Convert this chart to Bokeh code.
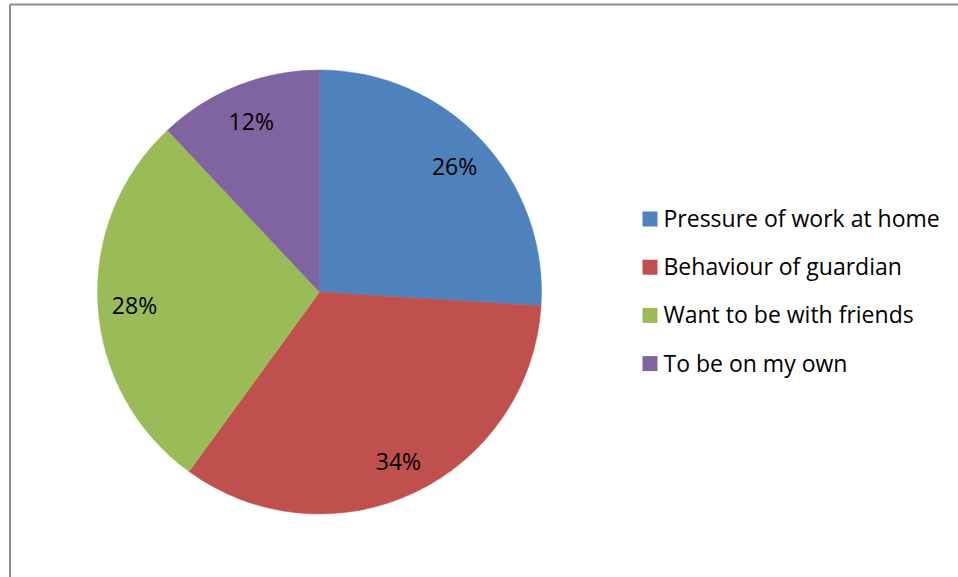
import math
from bokeh.plotting import figure
from bokeh.models import Range1d, ColumnDataSource
from bokeh.core.properties import value
from bokeh.embed import file_html
from bokeh.resources import INLINE

categories = ["Pressure of work at home", "Behaviour of guardian",
              "Want to be with friends", "To be on my own"]
percent = [26, 34, 28, 12]
colors = ["#4f81bd", "#c0504d", "#9bbb59", "#8064a2"]

W, H = 958, 577
p = figure(width=W, height=H, output_backend="svg", toolbar_location=None,
           x_range=Range1d(0, W), y_range=Range1d(0, H), min_border=0)
p.axis.visible = False
p.grid.visible = False
p.outline_line_color = None
p.background_fill_color = "white"
p.border_fill_color = "white"

def Y(py):
    return H - py

# chart area border (extends past the window on right and bottom)
p.segment(x0=[9.5, 9.5], y0=[Y(4), Y(4)], x1=[9.5, 1200], y1=[Y(900), Y(4)],
          line_color="#8c8c8c", line_width=2)

cx, cy, r = 319, Y(291.5), 222
label_r = 0.835
total = sum(percent)
starts, ends, lx, ly, labels = [], [], [], [], []
acc = 0.0
for v in percent:
    a0 = acc / total * 2 * math.pi
    acc += v
    a1 = acc / total * 2 * math.pi
    starts.append(math.pi / 2 - a0)
    ends.append(math.pi / 2 - a1)
    mid = (a0 + a1) / 2
    lx.append(cx + label_r * r * math.sin(mid))
    ly.append(cy + label_r * r * math.cos(mid) - 1)
    labels.append(f"{v}%")

src = ColumnDataSource(dict(start=starts, end=ends, color=colors))
p.wedge(x=cx, y=cy, radius=r, start_angle="start", end_angle="end",
        direction="clock", fill_color="color", line_color="color",
        line_width=0.5, source=src)

p.text(x=lx, y=ly, text=labels, text_align="center", text_baseline="middle",
       text_font=value("Open Sans"), text_font_size="23px", text_color="black")

# legend
ys = [Y(218.5 + 48.2 * i) for i in range(len(categories))]
p.rect(x=[649.5] * 4, y=ys, width=15, height=15, fill_color=colors,
       line_color=None)
p.text(x=[663] * 4, y=[v + 1 for v in ys], text=categories, text_align="left",
       text_baseline="middle", text_font=value("Open Sans"),
       text_font_size="23px", text_color="black")

open("out.html", "w").write(file_html(p, INLINE))
